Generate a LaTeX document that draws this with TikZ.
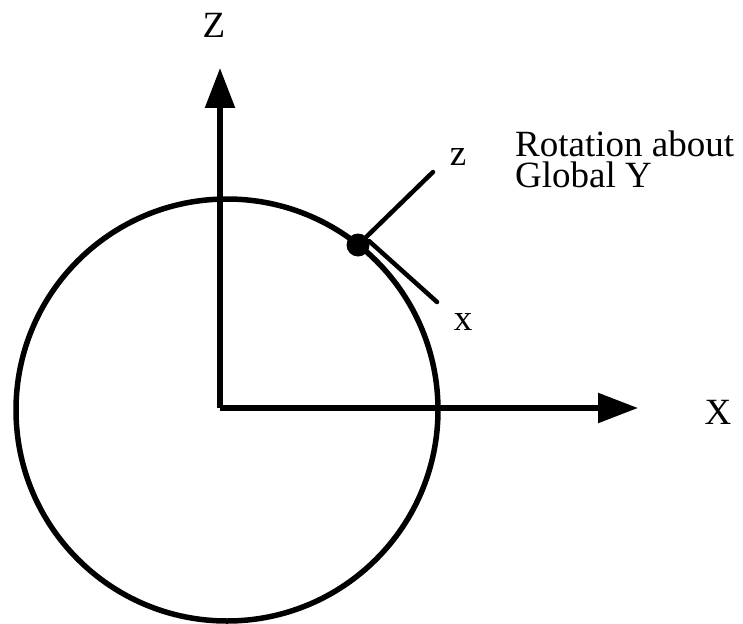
\documentclass[tikz,border=0pt]{standalone}
\usepackage{fontspec}
\setmainfont{Liberation Serif}
\usetikzlibrary{arrows.meta}
\begin{document}
\begin{tikzpicture}[x=1pt,y=-1pt,
  axis/.style={line width=5.5pt,-{Triangle[length=40pt,width=29pt]}},
  frameline/.style={line width=4.5pt},
  lbl/.style={inner sep=0pt,font=\fontsize{37}{31}\selectfont}]
\useasboundingbox (0,0) rectangle (743,623);
\coordinate (c) at (227,410);
\draw[line width=5.5pt] (c) circle (211);
\coordinate (O) at (220,408);
\coordinate (Zend) at (220,68);
\coordinate (Xend) at (638,408);
\draw[axis] (Zend |- O) -- (Zend);
\draw[axis] (O -| Zend) -- (Xend);
\node[lbl] (Zl) at (214,25) {Z};
\node[lbl] (Xl) at (718,412) {X};
\node[circle,fill,inner sep=0pt,minimum size=23pt] (dot) at (358,245) {};
\coordinate (zt) at (433,172);
\coordinate (xs) at (369,241);
\coordinate (xt) at (437,302);
\draw[frameline,line cap=round] (dot.center) -- (zt);
\draw[frameline,line cap=round] (xs) -- (xt);
\node[lbl] (zl) at (458,157) {z};
\node[lbl] (xl) at (463,322) {x};
\node[lbl,anchor=north west,align=left] (rot) at (515,131) {Rotation about\\Global Y};
\end{tikzpicture}
\end{document}
